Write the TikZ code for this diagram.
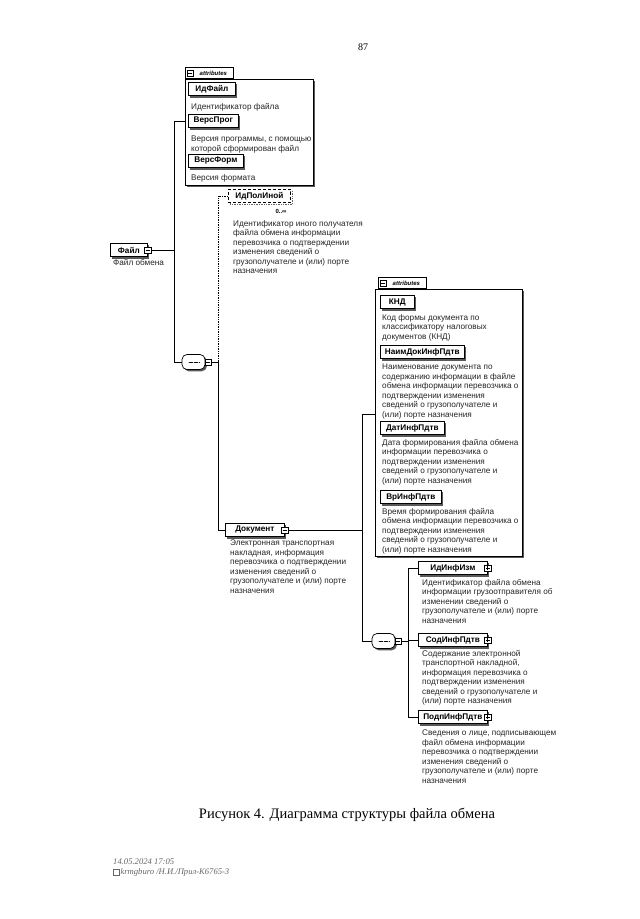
\documentclass[tikz,border=0pt]{standalone}
\usepackage{fontspec}
\setmainfont{Liberation Sans}
\newfontfamily\serifff{Liberation Serif}
\usetikzlibrary{shadows}
\newcommand\dfont{\fontsize{8.2}{9.5}\selectfont}
\newcommand\efont{\fontsize{8.2}{9}\selectfont\bfseries}
\tikzset{
  shd/.style={drop shadow={shadow xshift=1.8pt, shadow yshift=-1.8pt, fill=black!65, opacity=1}},
  elem/.style={draw=black, fill=white, line width=0.7pt, font=\efont, inner xsep=2pt, inner ysep=0pt,
    minimum height=13.5pt, minimum width=#1, anchor=west, shd},
  optelem/.style={draw=black, fill=white, line width=0.7pt, font=\efont, inner xsep=2pt, inner ysep=0pt,
    minimum height=13.5pt, minimum width=#1, anchor=west, densely dashed,
    drop shadow={shadow xshift=1.8pt, shadow yshift=-1.8pt, fill=white, draw=black!60, densely dotted, opacity=1}},
  desc/.style={anchor=north west, align=left, inner sep=0pt, font=\dfont, text=black!85},
  conn/.style={line width=0.7pt},
  abox/.style={draw=black, fill=white, line width=0.7pt, anchor=north west, inner sep=0pt, shd},
  tab/.style={draw=black, fill=white, line width=0.7pt, anchor=south west, inner xsep=2pt, inner ysep=0pt,
    minimum height=11pt, font=\fontsize{6}{7}\selectfont\itshape\bfseries},
  mbtn/.style={draw=black, fill=white, line width=0.5pt, minimum size=6.5pt, inner sep=0pt,
    path picture={\draw[line width=0.5pt] ([xshift=1.2pt]path picture bounding box.west) -- ([xshift=-1.2pt]path picture bounding box.east);}},
  pbtn/.style={draw=black, fill=white, line width=0.5pt, minimum size=6.5pt, inner sep=0pt,
    path picture={\draw[line width=0.5pt] ([xshift=1.2pt]path picture bounding box.west) -- ([xshift=-1.2pt]path picture bounding box.east);
      \draw[line width=0.5pt] ([yshift=1.2pt]path picture bounding box.south) -- ([yshift=-1.2pt]path picture bounding box.north);}},
  seqnode/.style={draw=black, fill=white, line width=0.7pt, rounded corners=5pt, minimum width=23pt, minimum height=15pt,
    inner sep=0pt, shd,
    path picture={\draw[line width=0.6pt] ([xshift=-6pt]path picture bounding box.center) -- ([xshift=6pt]path picture bounding box.center);
      \foreach \dx in {-5,0,5}{\fill ([xshift=\dx pt]path picture bounding box.center) circle (0.9pt);}}},
}
\begin{document}
\begin{tikzpicture}[x=1pt,y=-1pt]
\useasboundingbox[fill=white] (0,0) rectangle (640,919);

% page number
\node[font=\serifff\fontsize{10}{12}\selectfont] (pg) at (363,47) {87};

% ---------- top attributes box ----------
\node[abox, minimum width=128pt, minimum height=106pt] (a1) at (185,79) {};
\node[tab, minimum width=48pt] (t1) at (a1.north west) {\hspace*{8pt}attributes};
\node[mbtn, minimum size=6pt] (t1b) at ([xshift=5pt]t1.west) {};
\node[elem=47pt] (idf) at (188,89) {ИдФайл};
\node[desc] (didf) at (191,103) {Идентификатор файла};
\node[elem=50pt] (vprog) at (188,121) {ВерсПрог};
\node[desc] (dvprog) at (191,136) {Версия программы, с помощью\\которой сформирован файл};
\node[elem=55pt] (vform) at (188,161) {ВерсФорм};
\node[desc] (dvform) at (191,174) {Версия формата};

% ---------- root element ----------
\node[elem=37pt] (fajl) at (110,250) {Файл};
\node[mbtn] (fajlb) at (fajl.east) {};
\node[desc] (dfajl) at (113,259) {Файл обмена};

% ---------- sequence 1 ----------
\node[seqnode] (s1) at (193.5,362) {};
\node[mbtn] (s1b) at ([xshift=3pt]s1.east) {};

\coordinate (J1a) at (174,121);
\coordinate (J1b) at (174,362);
\draw[conn] (a1.west |- J1a) -- (J1a) -- (J1b) -- (s1.west);
\draw[conn] (fajlb.east) -- (fajlb.east -| J1a);

% ---------- ИдПолИной ----------
\node[optelem=62pt] (idpol) at (228,196) {ИдПолИной};
\node[font=\fontsize{6}{7}\selectfont\bfseries, inner sep=0pt] (mult) at (281,211) {0..∞};
\node[desc] (didpol) at (233,220) {Идентификатор иного получателя\\файла обмена информации\\перевозчика о подтверждении\\изменения сведений о\\грузополучателе и (или) порте\\назначения};

% ---------- Документ ----------
\node[elem=59pt] (dok) at (225,530) {Документ};
\node[mbtn] (dokb) at (dok.east) {};
\node[desc] (ddok) at (230,540) {Электронная транспортная\\накладная, информация\\перевозчика о подтверждении\\изменения сведений о\\грузополучателе и (или) порте\\назначения};

\coordinate (J2) at (218,362);
\draw[conn] (s1b.east) -- (J2);
\draw[conn, densely dotted] (J2) -- (idpol.west -| J2) -- (idpol.west);
\draw[conn] (J2) |- (dok.west);

% ---------- second attributes box ----------
\node[abox, minimum width=147pt, minimum height=267pt] (a2) at (375,289) {};
\node[tab, minimum width=48pt] (t2) at ([xshift=3pt]a2.north west) {\hspace*{8pt}attributes};
\node[mbtn, minimum size=6pt] (t2b) at ([xshift=5pt]t2.west) {};
\node[elem=34pt] (knd) at (380,302) {КНД};
\node[desc] (dknd) at (382,314) {Код формы документа по\\классификатору налоговых\\документов (КНД)};
\node[elem=84pt] (naim) at (380,352) {НаимДокИнфПдтв};
\node[desc] (dnaim) at (382,364) {Наименование документа по\\содержанию информации в файле\\обмена информации перевозчика о\\подтверждении изменения\\сведений о грузополучателе и\\(или) порте назначения};
\node[elem=64pt] (dat) at (380,428) {ДатИнфПдтв};
\node[desc] (ddat) at (382,439) {Дата формирования файла обмена\\информации перевозчика о\\подтверждении изменения\\сведений о грузополучателе и\\(или) порте назначения};
\node[elem=61pt] (vr) at (380,497) {ВрИнфПдтв};
\node[desc] (dvr) at (382,508) {Время формирования файла\\обмена информации перевозчика о\\подтверждении изменения\\сведений о грузополучателе и\\(или) порте назначения};

% ---------- sequence 2 ----------
\node[seqnode] (s2) at (383.5,641) {};
\node[mbtn] (s2b) at ([xshift=3pt]s2.east) {};

\coordinate (J3) at (362,414);
\draw[conn] (a2.west |- J3) -- (J3) |- (s2.west);
\draw[conn] (dokb.east) -- (dokb.east -| J3);

\node[elem=69pt] (idinf) at (418,568) {ИдИнфИзм};
\node[pbtn] (idinfb) at (idinf.east) {};
\node[desc] (didinf) at (422,579) {Идентификатор файла обмена\\информации грузоотправителя об\\изменении сведений о\\грузополучателе и (или) порте\\назначения};
\node[elem=69pt] (sod) at (418,640) {СодИнфПдтв};
\node[pbtn] (sodb) at (sod.east) {};
\node[desc] (dsod) at (422,650) {Содержание электронной\\транспортной накладной,\\информация перевозчика о\\подтверждении изменения\\сведений о грузополучателе и\\(или) порте назначения};
\node[elem=69pt] (podp) at (418,717) {ПодпИнфПдтв};
\node[pbtn] (podpb) at (podp.east) {};
\node[desc] (dpodp) at (422,730) {Сведения о лице, подписывающем\\файл обмена информации\\перевозчика о подтверждении\\изменения сведений о\\грузополучателе и (или) порте\\назначения};

\coordinate (J4) at (408,641);
\draw[conn] (s2b.east) -- (J4);
\draw[conn] (idinf.west) -- (idinf.west -| J4) -- (podp.west -| J4) -- (podp.west);
\draw[conn] (sod.west) -- (sod.west -| J4);

% ---------- caption ----------
\node[font=\serifff\fontsize{14.5}{16}\selectfont] (cap) at (347,815) {Рисунок 4. Диаграмма структуры файла обмена};

% ---------- footer ----------
\node[anchor=west, inner sep=0pt, text=black!60, font=\serifff\fontsize{8.6}{9}\selectfont\itshape] (f1) at (113,862) {14.05.2024 17:05};
\node[draw=black!60, line width=0.4pt, minimum width=5.5pt, minimum height=5.5pt, inner sep=0pt, anchor=west] (ficon) at (113,872) {};
\node[anchor=west, inner sep=0pt, text=black!60, font=\serifff\fontsize{8.6}{9}\selectfont\itshape] (f2) at (ficon.east) {\,krmgburo /Н.И./Прил-К6765-3};
\end{tikzpicture}
\end{document}
